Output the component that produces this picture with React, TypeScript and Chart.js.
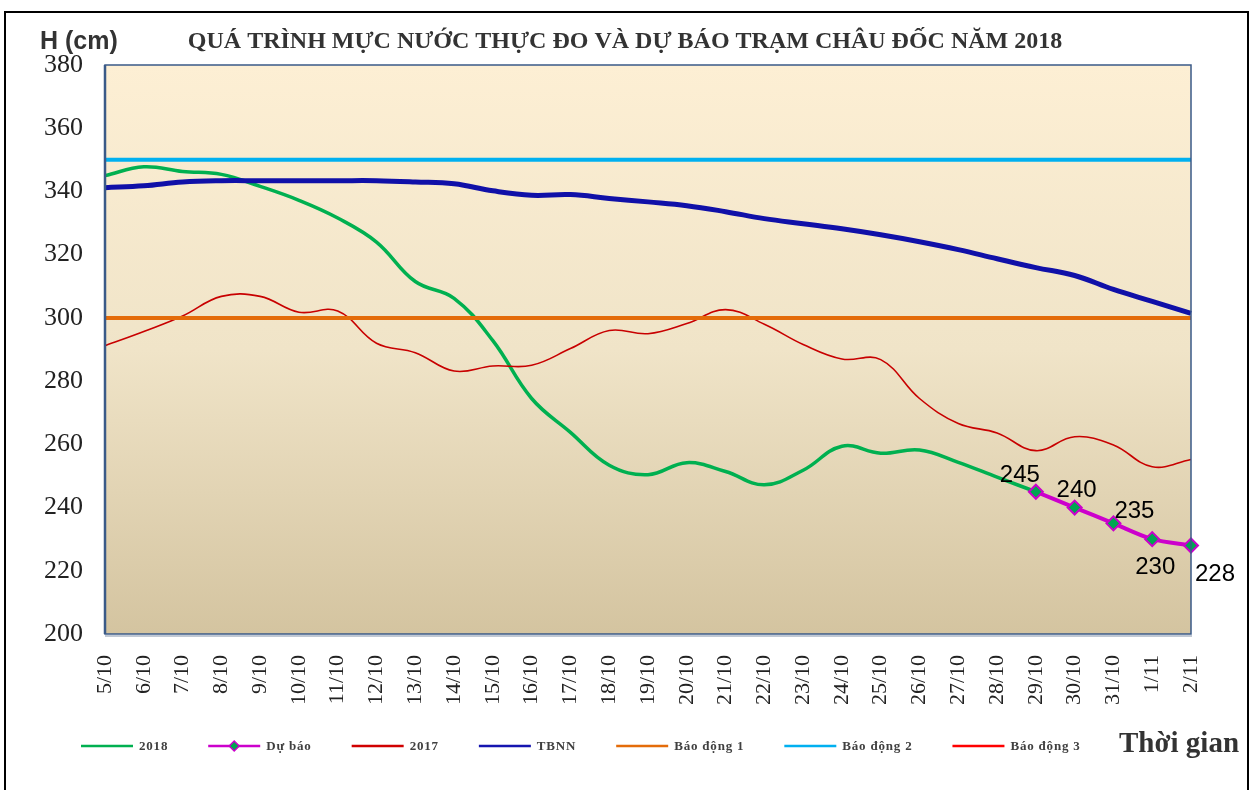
import React, { useEffect, useRef } from "react";
import { Chart, registerables } from "chart.js";

Chart.register(...registerables);

const dates = [
  "5/10", "6/10", "7/10", "8/10", "9/10", "10/10", "11/10", "12/10", "13/10", "14/10",
  "15/10", "16/10", "17/10", "18/10", "19/10", "20/10", "21/10", "22/10", "23/10", "24/10",
  "25/10", "26/10", "27/10", "28/10", "29/10", "30/10", "31/10", "1/11", "2/11",
];

const series2018 = [
  345, 347.8, 346.3, 345.4, 341.6, 337.2, 331.6, 324, 311.5, 306.2,
  292.8, 274.5, 263.8, 253.4, 250.4, 254.2, 251.4, 247.2, 251.8, 259.4,
  257.2, 258.2, 254.3, 249.6, 245,
];

const forecast = [
  null, null, null, null, null, null, null, null, null, null,
  null, null, null, null, null, null, null, null, null, null,
  null, null, null, null, 245, 240, 235, 230, 228,
];

const series2017 = [
  291.2, 295.7, 300.6, 306.8, 306.8, 301.8, 302.2, 292, 289, 283.2,
  284.8, 285, 290.3, 296, 295, 298.2, 302.6, 298, 291.6, 287,
  286.8, 274.5, 266.6, 263.6, 258, 262.4, 259.8, 252.9, 255.2,
];

const seriesTBNN = [
  341.2, 341.8, 343, 343.4, 343.4, 343.4, 343.4, 343.4, 343, 342.4,
  340.2, 338.8, 339, 337.8, 336.7, 335.5, 333.6, 331.4, 329.8, 328.2,
  326.3, 324.1, 321.6, 318.7, 315.9, 313.4, 309, 305.2, 301.4,
];

const alarm1 = dates.map(() => 300);
const alarm2 = dates.map(() => 350);
const alarm3: number[] = [];

const yTicksMin = 200;
const yTicksMax = 380;
const yTickStep = 20;

const titleText = "QUÁ TRÌNH MỰC NƯỚC THỰC ĐO VÀ DỰ BÁO TRẠM CHÂU ĐỐC NĂM 2018";
const yAxisTitle = "H (cm)";
const xAxisTitle = "Thời gian";

const legendItems = [
  { label: "2018", color: "#00B050", marker: false },
  { label: "Dự báo", color: "#CC00CC", marker: true },
  { label: "2017", color: "#D00000", marker: false },
  { label: "TBNN", color: "#1515B0", marker: false },
  { label: "Báo động 1", color: "#E46C0A", marker: false },
  { label: "Báo động 2", color: "#00B0F0", marker: false },
  { label: "Báo động 3", color: "#FF0000", marker: false },
];

// label offsets for forecast values (dx, dy) in px
const forecastLabelOffsets = [
  [-16, -16],
  [2, -17],
  [21, -12],
  [3, 28],
  [24, 29],
];

const decorPlugin = {
  id: "decor",
  beforeDraw(chart: any) {
    const { ctx, chartArea } = chart;
    const { left, top, right, bottom } = chartArea;
    ctx.save();
    ctx.fillStyle = "#ffffff";
    ctx.fillRect(0, 0, chart.width, chart.height);
    const g = ctx.createLinearGradient(0, top, 0, bottom);
    g.addColorStop(0, "#FDEFD4");
    g.addColorStop(0.5, "#F0E4C8");
    g.addColorStop(1, "#D4C4A0");
    ctx.fillStyle = g;
    ctx.fillRect(left, top, right - left, bottom - top);
    ctx.restore();
  },
  afterDatasetsDraw(chart: any) {
    const { ctx, chartArea } = chart;
    const { left, top, right, bottom } = chartArea;
    ctx.save();
    ctx.strokeStyle = "#C0C8D4";
    ctx.lineWidth = 2;
    ctx.beginPath();
    ctx.moveTo(left, bottom + 2);
    ctx.lineTo(right + 1, bottom + 2);
    ctx.stroke();
    ctx.strokeStyle = "#3A5A88";
    ctx.lineWidth = 1.5;
    ctx.strokeRect(left, top, right - left, bottom - top);
    ctx.lineWidth = 2.5;
    ctx.beginPath();
    ctx.moveTo(left, top);
    ctx.lineTo(left, bottom);
    ctx.stroke();

    const meta = chart.getDatasetMeta(1);
    ctx.fillStyle = "#000000";
    ctx.font = "24px 'Liberation Sans', Arial, sans-serif";
    ctx.textAlign = "center";
    ctx.textBaseline = "middle";
    let k = 0;
    forecast.forEach((v, i) => {
      if (v == null) return;
      const pt = meta.data[i];
      const off = forecastLabelOffsets[k] || [0, -16];
      ctx.fillText(String(v), pt.x + off[0], pt.y + off[1]);
      k++;
    });
    ctx.restore();
  },
  afterDraw(chart: any) {
    const { ctx } = chart;
    ctx.save();
    ctx.strokeStyle = "#000000";
    ctx.lineWidth = 2;
    ctx.strokeRect(5, 12, 1243, 790);

    ctx.fillStyle = "#333333";
    ctx.textBaseline = "middle";
    ctx.textAlign = "left";
    ctx.font = "bold 25px 'Liberation Sans', Arial, sans-serif";
    ctx.fillText(yAxisTitle, 40, 42);

    ctx.textAlign = "center";
    ctx.font = "bold 24px 'Liberation Serif', 'Times New Roman', serif";
    ctx.fillText(titleText, 625, 42);

    let x = 81;
    const y = 746;
    ctx.font = "bold 13px 'Liberation Serif', 'Times New Roman', serif";
    (ctx as any).letterSpacing = "0.8px";
    ctx.textAlign = "left";
    legendItems.forEach((it) => {
      ctx.strokeStyle = it.color;
      ctx.lineWidth = 2.5;
      ctx.beginPath();
      ctx.moveTo(x, y);
      ctx.lineTo(x + 52, y);
      ctx.stroke();
      if (it.marker) {
        const cx = x + 26;
        ctx.fillStyle = "#00A651";
        ctx.strokeStyle = "#CC00CC";
        ctx.lineWidth = 1.5;
        ctx.beginPath();
        ctx.moveTo(cx, y - 5);
        ctx.lineTo(cx + 5, y);
        ctx.lineTo(cx, y + 5);
        ctx.lineTo(cx - 5, y);
        ctx.closePath();
        ctx.fill();
        ctx.stroke();
      }
      ctx.fillStyle = "#404040";
      ctx.fillText(it.label, x + 58, y + 1);
      x += 58 + ctx.measureText(it.label).width + 40;
    });
    (ctx as any).letterSpacing = "0px";

    ctx.fillStyle = "#333333";
    ctx.font = "bold 29px 'Liberation Serif', 'Times New Roman', serif";
    ctx.textAlign = "left";
    ctx.fillText(xAxisTitle, 1119, 745);
    ctx.restore();
  },
};

export default function App() {
  const ref = useRef<HTMLCanvasElement | null>(null);
  useEffect(() => {
    document.body.style.margin = "0";
    const canvas = ref.current;
    if (!canvas) return;
    const chart = new Chart(canvas, {
      type: "line",
      data: {
        labels: dates,
        datasets: [
          {
            label: "2018",
            data: series2018,
            borderColor: "#00B050",
            borderWidth: 3.5,
            pointRadius: 0,
            tension: 0.4,
            order: 7,
          },
          {
            label: "Dự báo",
            data: forecast,
            borderColor: "#CC00CC",
            borderWidth: 4,
            pointStyle: "rectRot",
            pointRadius: 7,
            pointBackgroundColor: "#00A651",
            pointBorderColor: "#CC00CC",
            pointBorderWidth: 2,
            tension: 0.3,
            clip: false,
            order: 1,
          },
          {
            label: "2017",
            data: series2017,
            borderColor: "#C80000",
            borderWidth: 1.6,
            pointRadius: 0,
            tension: 0.4,
            order: 6,
          },
          {
            label: "TBNN",
            data: seriesTBNN,
            borderColor: "#1010A8",
            borderWidth: 5,
            pointRadius: 0,
            tension: 0.4,
            order: 5,
          },
          {
            label: "Báo động 1",
            data: alarm1,
            borderColor: "#E46C0A",
            borderWidth: 4,
            pointRadius: 0,
            order: 4,
          },
          {
            label: "Báo động 2",
            data: alarm2,
            borderColor: "#00B0F0",
            borderWidth: 4,
            pointRadius: 0,
            order: 3,
          },
          {
            label: "Báo động 3",
            data: alarm3,
            borderColor: "#FF0000",
            borderWidth: 2,
            pointRadius: 0,
            order: 2,
          },
        ],
      },
      options: {
        responsive: false,
        animation: false,
        spanGaps: false,
        layout: { padding: { left: 0, right: 65, top: 65, bottom: 0 } },
        plugins: {
          legend: { display: false },
          title: { display: false },
          tooltip: { enabled: false },
        },
        scales: {
          x: {
            grid: { display: false },
            border: { display: false },
            offset: false,
            ticks: {
              autoSkip: false,
              minRotation: 90,
              maxRotation: 90,
              padding: 13,
              color: "#222222",
              font: { family: "'Liberation Serif', 'Times New Roman', serif", size: 22 },
            },
            afterFit: (scale: any) => {
              scale.height = 156;
            },
          },
          y: {
            min: yTicksMin,
            max: yTicksMax,
            grid: { display: false },
            border: { display: false },
            ticks: {
              stepSize: yTickStep,
              padding: 14,
              color: "#222222",
              font: { family: "'Liberation Serif', 'Times New Roman', serif", size: 26 },
            },
            afterFit: (scale: any) => {
              scale.width = 105;
            },
          },
        },
      },
      plugins: [decorPlugin],
    });
    return () => chart.destroy();
  }, []);
  return (
    <div style={{ width: 1256, height: 790 }}>
      <canvas ref={ref} width={1256} height={790} style={{ display: "block" }} />
    </div>
  );
}
